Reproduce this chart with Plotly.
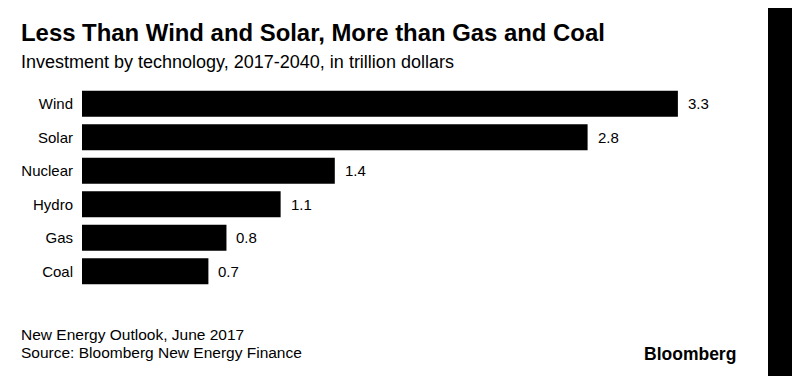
import plotly.graph_objects as go

categories = ["Wind", "Solar", "Nuclear", "Hydro", "Gas", "Coal"]
values = [3.3, 2.8, 1.4, 1.1, 0.8, 0.7]
value_labels = ["3.3", "2.8", "1.4", "1.1", "0.8", "0.7"]

title = "Less Than Wind and Solar, More than Gas and Coal"
subtitle = "Investment by technology, 2017-2040, in trillion dollars"
footer1 = "New Energy Outlook, June 2017"
footer2 = "Source: Bloomberg New Energy Finance"
brand = "Bloomberg"

# page has an 8px body margin; compensate so the picture lines up with the window
OFF = 8
W, H = 800 - OFF, 376 - OFF
L, R, T, B = 82 - OFF, 86, 87 - OFF, 88
PW, PH = W - L - R, H - T - B

def xp(px):
    return (px - OFF - L) / PW

def yp(py):
    return (H - B - (py - OFF)) / PH

FONT = "Liberation Sans, Arial, Helvetica, sans-serif"

fig = go.Figure(go.Bar(
    x=values,
    y=categories,
    orientation="h",
    marker=dict(color="#000000", line=dict(width=0)),
    width=0.78,
    hoverinfo="skip",
))

annotations = []
for c, v, t in zip(categories, values, value_labels):
    annotations.append(dict(
        x=v, y=c, xref="x", yref="y", text=t, showarrow=False,
        xanchor="left", yanchor="middle", xshift=8,
        font=dict(size=15, color="#000000", family=FONT),
    ))

annotations += [
    dict(x=xp(19), y=yp(33), xref="paper", yref="paper", text="<b>" + title + "</b>",
         showarrow=False, xanchor="left", yanchor="middle",
         font=dict(size=23.9, color="#000000", family=FONT)),
    dict(x=xp(19), y=yp(62), xref="paper", yref="paper", text=subtitle,
         showarrow=False, xanchor="left", yanchor="middle",
         font=dict(size=18, color="#000000", family=FONT)),
    dict(x=xp(19), y=yp(334), xref="paper", yref="paper", text=footer1,
         showarrow=False, xanchor="left", yanchor="middle",
         font=dict(size=15.5, color="#000000", family=FONT)),
    dict(x=xp(19), y=yp(352), xref="paper", yref="paper", text=footer2,
         showarrow=False, xanchor="left", yanchor="middle",
         font=dict(size=15.5, color="#000000", family=FONT)),
    dict(x=xp(738), y=yp(354), xref="paper", yref="paper", text="<b>" + brand + "</b>",
         showarrow=False, xanchor="right", yanchor="middle",
         font=dict(size=17.5, color="#000000", family=FONT)),
]

fig.update_layout(
    width=W, height=H,
    margin=dict(l=L, r=R, t=T, b=B, pad=0),
    paper_bgcolor="#ffffff", plot_bgcolor="#ffffff",
    showlegend=False,
    annotations=annotations,
    shapes=[dict(type="rect", xref="paper", yref="paper",
                 x0=xp(768), x1=xp(801), y0=yp(377), y1=yp(-1),
                 fillcolor="#000000", line=dict(width=0), layer="above")],
    xaxis=dict(range=[0, 3.5], visible=False, fixedrange=True),
    yaxis=dict(categoryorder="array", categoryarray=categories[::-1],
               range=[-0.5, 5.5], showgrid=False, zeroline=False, showline=False,
               ticks="", ticklabelstandoff=8,
               tickfont=dict(size=15, color="#000000", family=FONT), fixedrange=True),
)

fig.write_html("out.html")
